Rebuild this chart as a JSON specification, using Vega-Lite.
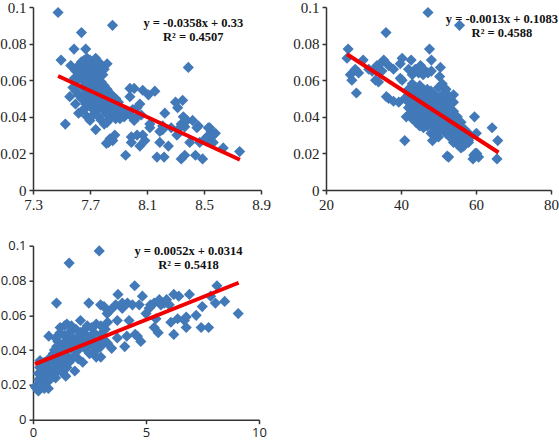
{"$schema":"https://vega.github.io/schema/vega-lite/v6.json","background":"white","padding":{"left":-1,"top":0,"right":0,"bottom":0},
"config":{"view":{"stroke":null},"axis":{"grid":false,"title":null,"labelFlush":false,"labelOverlap":false,"domainColor":"#333","domainWidth":1.5,"tickColor":"#333","tickWidth":1.5,"tickSize":4,"labelFont":"Liberation Serif","labelFontSize":15,"labelColor":"#222","labelPadding":3}},
"datasets":{
"p1":[{"x":7.476,"y":0.097},{"x":7.858,"y":0.09},{"x":7.64,"y":0.086},{"x":7.497,"y":0.071},{"x":7.588,"y":0.077},{"x":7.67,"y":0.077},{"x":8.39,"y":0.067},{"x":7.565,"y":0.068},{"x":7.527,"y":0.036},{"x":7.558,"y":0.051},{"x":7.598,"y":0.047},{"x":7.74,"y":0.033},
{"x":7.62,"y":0.068},{"x":7.64,"y":0.07},{"x":7.66,"y":0.071},{"x":7.68,"y":0.072},{"x":7.7,"y":0.071},{"x":7.72,"y":0.07},{"x":7.74,"y":0.072},{"x":7.76,"y":0.07},{"x":7.78,"y":0.068},{"x":7.64,"y":0.066},{"x":7.66,"y":0.067},{"x":7.68,"y":0.068},{"x":7.7,"y":0.068},{"x":7.72,"y":0.067},{"x":7.74,"y":0.066},{"x":7.76,"y":0.066},{"x":7.6,"y":0.065},{"x":7.62,"y":0.064},{"x":7.64,"y":0.063},{"x":7.66,"y":0.064},{"x":7.68,"y":0.065},{"x":7.7,"y":0.064},{"x":7.72,"y":0.063},{"x":7.74,"y":0.062},{"x":7.77,"y":0.062},{"x":7.59,"y":0.061},{"x":7.61,"y":0.06},{"x":7.63,"y":0.061},{"x":7.65,"y":0.06},{"x":7.67,"y":0.061},{"x":7.69,"y":0.06},{"x":7.71,"y":0.059},{"x":7.73,"y":0.058},
{"x":7.58,"y":0.056},{"x":7.6,"y":0.054},{"x":7.62,"y":0.052},{"x":7.64,"y":0.05},{"x":7.66,"y":0.052},{"x":7.68,"y":0.054},{"x":7.7,"y":0.055},{"x":7.72,"y":0.053},{"x":7.74,"y":0.054},{"x":7.76,"y":0.055},{"x":7.78,"y":0.056},{"x":7.8,"y":0.057},{"x":7.82,"y":0.055},{"x":7.84,"y":0.053},{"x":7.86,"y":0.051},{"x":7.88,"y":0.05},
{"x":7.62,"y":0.042},{"x":7.64,"y":0.043},{"x":7.66,"y":0.044},{"x":7.68,"y":0.04},{"x":7.7,"y":0.038},{"x":7.72,"y":0.041},{"x":7.74,"y":0.043},{"x":7.76,"y":0.045},{"x":7.78,"y":0.047},{"x":7.8,"y":0.049},{"x":7.82,"y":0.048},{"x":7.84,"y":0.046},{"x":7.86,"y":0.044},{"x":7.88,"y":0.046},{"x":7.9,"y":0.048},{"x":7.92,"y":0.044},{"x":7.94,"y":0.04},
{"x":7.72,"y":0.048},{"x":7.74,"y":0.05},{"x":7.76,"y":0.04},{"x":7.78,"y":0.038},{"x":7.8,"y":0.036},{"x":7.82,"y":0.037},{"x":7.84,"y":0.039},{"x":7.86,"y":0.041},{"x":7.88,"y":0.039},{"x":7.9,"y":0.042},
{"x":7.67,"y":0.047},{"x":7.69,"y":0.05},{"x":7.71,"y":0.045},{"x":7.73,"y":0.046},{"x":7.75,"y":0.048},{"x":7.77,"y":0.051},{"x":7.79,"y":0.044},{"x":7.81,"y":0.042},{"x":7.83,"y":0.051},{"x":7.75,"y":0.052},{"x":7.79,"y":0.053},{"x":7.81,"y":0.045},{"x":7.85,"y":0.048},{"x":7.83,"y":0.042},{"x":7.65,"y":0.056},{"x":7.68,"y":0.057},{"x":7.71,"y":0.05},{"x":7.75,"y":0.058},{"x":7.78,"y":0.059},{"x":7.8,"y":0.066},{"x":7.79,"y":0.063},{"x":7.82,"y":0.069},{"x":7.63,"y":0.067},{"x":7.91,"y":0.039},{"x":7.96,"y":0.043},{"x":7.98,"y":0.041},{"x":8.03,"y":0.04},{"x":8.0,"y":0.044},
{"x":7.815,"y":0.0255},{"x":7.84,"y":0.028},{"x":7.874,"y":0.03},{"x":7.86,"y":0.027},{"x":7.83,"y":0.026},{"x":7.95,"y":0.019},
{"x":7.98,"y":0.051},{"x":7.98,"y":0.0555},{"x":8.01,"y":0.0555},{"x":8.05,"y":0.047},{"x":8.03,"y":0.045},{"x":8.07,"y":0.0545},{"x":8.11,"y":0.052},{"x":8.155,"y":0.054},{"x":8.01,"y":0.038},{"x":8.06,"y":0.041},{"x":7.99,"y":0.029},{"x":8.03,"y":0.03},{"x":7.99,"y":0.026},{"x":8.05,"y":0.024},{"x":8.085,"y":0.027},{"x":8.07,"y":0.03},{"x":8.12,"y":0.034},{"x":8.12,"y":0.036},{"x":8.17,"y":0.018},{"x":8.22,"y":0.018},{"x":8.225,"y":0.042},{"x":8.19,"y":0.032},{"x":8.21,"y":0.033},{"x":8.19,"y":0.026},{"x":8.25,"y":0.024},{"x":8.27,"y":0.034},{"x":8.21,"y":0.035},{"x":8.31,"y":0.03},{"x":8.3,"y":0.048},{"x":8.315,"y":0.045},{"x":8.35,"y":0.049},{"x":8.34,"y":0.036},{"x":8.355,"y":0.04},{"x":8.38,"y":0.038},{"x":8.33,"y":0.034},{"x":8.365,"y":0.0345},{"x":8.34,"y":0.017},{"x":8.365,"y":0.019},{"x":8.4,"y":0.026},{"x":8.42,"y":0.038},{"x":8.46,"y":0.035},{"x":8.45,"y":0.034},{"x":8.44,"y":0.019},{"x":8.49,"y":0.017},{"x":8.47,"y":0.026},{"x":8.53,"y":0.034},{"x":8.55,"y":0.032},{"x":8.52,"y":0.029},{"x":8.54,"y":0.027},{"x":8.58,"y":0.031},{"x":8.565,"y":0.026},{"x":8.635,"y":0.023},{"x":8.75,"y":0.021},{"x":8.51,"y":0.028},{"x":8.54,"y":0.034},{"x":8.565,"y":0.03}],
"p2":[{"x":47.2,"y":0.097},{"x":55.6,"y":0.09},{"x":36,"y":0.086},{"x":25.9,"y":0.077},{"x":47.6,"y":0.077},{"x":25.6,"y":0.072},{"x":29.9,"y":0.071},{"x":35.4,"y":0.071},{"x":48.1,"y":0.071},{"x":40.3,"y":0.072},{"x":42.7,"y":0.071},{"x":39.8,"y":0.069},{"x":34.5,"y":0.069},{"x":36.7,"y":0.068},{"x":38,"y":0.066},{"x":31.4,"y":0.066},{"x":26.5,"y":0.063},{"x":27.8,"y":0.066},{"x":28.7,"y":0.064},{"x":26.9,"y":0.06},{"x":28.1,"y":0.053},{"x":33.2,"y":0.06},{"x":34,"y":0.059},{"x":32.3,"y":0.065},{"x":34.9,"y":0.065},{"x":33.6,"y":0.068},{"x":36.1,"y":0.051},{"x":36.7,"y":0.05},{"x":38,"y":0.0485},{"x":39.8,"y":0.061},{"x":40.3,"y":0.06},{"x":39.4,"y":0.048},{"x":41,"y":0.027},{"x":41.4,"y":0.04},{"x":50.5,"y":0.067},{"x":50.3,"y":0.062},{"x":48.1,"y":0.065},{"x":46.5,"y":0.065},{"x":45.2,"y":0.068},{"x":43.8,"y":0.066},{"x":42,"y":0.066},{"x":43,"y":0.063},{"x":45.9,"y":0.063},{"x":44.7,"y":0.064},{"x":47.2,"y":0.064},
{"x":42,"y":0.055},{"x":42,"y":0.052},{"x":42,"y":0.048},{"x":42,"y":0.045},{"x":42,"y":0.041},{"x":44,"y":0.056},{"x":44,"y":0.053},{"x":44,"y":0.05},{"x":44,"y":0.047},{"x":44,"y":0.044},{"x":44,"y":0.04},{"x":44,"y":0.037},{"x":46,"y":0.055},{"x":46,"y":0.052},{"x":46,"y":0.049},{"x":46,"y":0.046},{"x":46,"y":0.043},{"x":46,"y":0.04},{"x":46,"y":0.036},{"x":46,"y":0.034},{"x":48,"y":0.054},{"x":48,"y":0.051},{"x":48,"y":0.048},{"x":48,"y":0.045},{"x":48,"y":0.042},{"x":48,"y":0.039},{"x":48,"y":0.036},{"x":48,"y":0.031},{"x":50,"y":0.056},{"x":50,"y":0.05},{"x":50,"y":0.047},{"x":50,"y":0.044},{"x":50,"y":0.041},{"x":50,"y":0.038},{"x":50,"y":0.035},{"x":50,"y":0.032},{"x":50,"y":0.029},{"x":52,"y":0.055},{"x":52,"y":0.053},{"x":52,"y":0.049},{"x":52,"y":0.046},{"x":52,"y":0.043},{"x":52,"y":0.04},{"x":52,"y":0.037},{"x":52,"y":0.034},{"x":52,"y":0.031},{"x":54,"y":0.052},{"x":54,"y":0.048},{"x":54,"y":0.043},{"x":54,"y":0.04},{"x":54,"y":0.037},{"x":54,"y":0.034},{"x":54,"y":0.031},{"x":54,"y":0.028},{"x":54,"y":0.026},{"x":56,"y":0.037},{"x":56,"y":0.034},{"x":56,"y":0.031},{"x":56,"y":0.028},{"x":56,"y":0.025},{"x":56,"y":0.023},{"x":58,"y":0.031},{"x":58,"y":0.028},{"x":58,"y":0.026},
{"x":41,"y":0.05},{"x":43,"y":0.058},{"x":43,"y":0.054},{"x":43,"y":0.05},{"x":43,"y":0.046},{"x":43,"y":0.042},{"x":43,"y":0.039},{"x":45,"y":0.057},{"x":45,"y":0.054},{"x":45,"y":0.051},{"x":45,"y":0.047},{"x":45,"y":0.044},{"x":45,"y":0.041},{"x":45,"y":0.038},{"x":45,"y":0.035},{"x":47,"y":0.055},{"x":47,"y":0.05},{"x":47,"y":0.047},{"x":47,"y":0.044},{"x":47,"y":0.041},{"x":47,"y":0.038},{"x":47,"y":0.035},{"x":49,"y":0.052},{"x":49,"y":0.049},{"x":49,"y":0.046},{"x":49,"y":0.043},{"x":49,"y":0.04},{"x":49,"y":0.037},{"x":49,"y":0.034},{"x":49,"y":0.03},{"x":51,"y":0.058},{"x":51,"y":0.052},{"x":51,"y":0.048},{"x":51,"y":0.045},{"x":51,"y":0.042},{"x":51,"y":0.039},{"x":51,"y":0.036},{"x":51,"y":0.033},{"x":53,"y":0.05},{"x":53,"y":0.047},{"x":53,"y":0.044},{"x":53,"y":0.041},{"x":53,"y":0.038},{"x":53,"y":0.035},{"x":53,"y":0.032},{"x":53,"y":0.029},{"x":55,"y":0.04},{"x":55,"y":0.036},{"x":55,"y":0.033},{"x":55,"y":0.03},{"x":55,"y":0.027},{"x":55,"y":0.025},{"x":57,"y":0.033},{"x":57,"y":0.03},{"x":57,"y":0.027},{"x":57,"y":0.025},
{"x":48.4,"y":0.027},{"x":52.3,"y":0.0185},{"x":52.7,"y":0.018},{"x":59.6,"y":0.04},{"x":60.1,"y":0.031},{"x":64.3,"y":0.034},{"x":65.8,"y":0.027},{"x":65.6,"y":0.017},{"x":59.2,"y":0.017},{"x":59.8,"y":0.02},{"x":60.7,"y":0.018},{"x":59.4,"y":0.019},{"x":60.2,"y":0.02},{"x":58,"y":0.027},{"x":56.7,"y":0.024}],
"p3":[{"x":2.93,"y":0.097},{"x":1.6,"y":0.09},{"x":1.04,"y":0.067},{"x":2.47,"y":0.067},{"x":2.99,"y":0.066},{"x":3.76,"y":0.072},{"x":4.5,"y":0.077},{"x":4.84,"y":0.071},{"x":9.08,"y":0.061},{"x":8.48,"y":0.068},{"x":8.14,"y":0.077},{"x":8.07,"y":0.067},{"x":7.86,"y":0.071},{"x":7.49,"y":0.065},{"x":7.22,"y":0.06},{"x":7.44,"y":0.053},{"x":7.77,"y":0.053},{"x":6.92,"y":0.072},{"x":6.23,"y":0.072},{"x":6.45,"y":0.071},{"x":6.23,"y":0.049},{"x":6.1,"y":0.056},{"x":6.4,"y":0.058},{"x":6.78,"y":0.059},{"x":6.78,"y":0.053},{"x":6.7,"y":0.057},{"x":5.54,"y":0.05},{"x":5.36,"y":0.053},{"x":5.44,"y":0.058},{"x":5,"y":0.061},{"x":5.2,"y":0.066},{"x":5.36,"y":0.067},{"x":5.59,"y":0.069},{"x":5.81,"y":0.067},{"x":5.91,"y":0.069},{"x":6.03,"y":0.066},{"x":5.66,"y":0.066},{"x":5.14,"y":0.064},
{"x":3.66,"y":0.066},{"x":3.95,"y":0.064},{"x":4.18,"y":0.067},{"x":4.4,"y":0.066},{"x":4.7,"y":0.066},{"x":3.95,"y":0.067},{"x":4.25,"y":0.057},{"x":3.73,"y":0.057},{"x":4.06,"y":0.042},{"x":4.15,"y":0.048},{"x":4.52,"y":0.049},{"x":4.77,"y":0.045},{"x":4.62,"y":0.048},{"x":3.73,"y":0.047},{"x":3.48,"y":0.041},{"x":3.43,"y":0.063},{"x":3.28,"y":0.061},{"x":3.14,"y":0.065},
{"x":0.31,"y":0.034},{"x":0.24,"y":0.0265},{"x":0.16,"y":0.018},{"x":0.24,"y":0.0165},{"x":0.68,"y":0.018},{"x":0.46,"y":0.021},{"x":0.1,"y":0.019},{"x":0.35,"y":0.022},{"x":0.55,"y":0.024},{"x":0.4,"y":0.028},{"x":0.6,"y":0.031},{"x":0.8,"y":0.028},{"x":0.7,"y":0.035},{"x":0.9,"y":0.026},{"x":1.0,"y":0.031},{"x":1.1,"y":0.028},{"x":1.3,"y":0.027},{"x":1.45,"y":0.025},{"x":1.2,"y":0.034},{"x":0.9,"y":0.038},{"x":0.7,"y":0.048},{"x":1.0,"y":0.047},{"x":1.1,"y":0.045},{"x":1.2,"y":0.05},{"x":1.2,"y":0.053},{"x":1.4,"y":0.054},{"x":1.5,"y":0.055},{"x":1.7,"y":0.054},{"x":1.4,"y":0.048},{"x":1.6,"y":0.05},{"x":1.9,"y":0.052},{"x":1.3,"y":0.043},{"x":1.5,"y":0.045},{"x":1.7,"y":0.041},{"x":1.5,"y":0.037},{"x":1.8,"y":0.036},{"x":1.85,"y":0.028},{"x":2.0,"y":0.035},{"x":2.2,"y":0.033},{"x":2.1,"y":0.057},{"x":2.4,"y":0.054},{"x":2.0,"y":0.047},{"x":2.2,"y":0.045},{"x":2.4,"y":0.048},{"x":2.3,"y":0.041},{"x":2.6,"y":0.043},{"x":2.8,"y":0.055},{"x":2.7,"y":0.05},{"x":2.9,"y":0.046},{"x":2.8,"y":0.04},{"x":2.8,"y":0.036},{"x":3.0,"y":0.036},{"x":3.0,"y":0.054},{"x":3.2,"y":0.052},{"x":3.3,"y":0.056},{"x":3.1,"y":0.048},{"x":3.3,"y":0.044},{"x":3.0,"y":0.042},{"x":1.1,"y":0.038},{"x":0.8,"y":0.033},{"x":1.4,"y":0.031},{"x":1.6,"y":0.033},{"x":1.9,"y":0.04},{"x":2.5,"y":0.038},
{"x":0.3,"y":0.03},{"x":0.5,"y":0.033},{"x":0.45,"y":0.026},{"x":0.65,"y":0.027},{"x":0.75,"y":0.023},{"x":0.9,"y":0.031},{"x":1.0,"y":0.035},{"x":1.2,"y":0.03},{"x":1.15,"y":0.04},{"x":1.3,"y":0.037},{"x":1.4,"y":0.04},{"x":1.6,"y":0.043},{"x":1.8,"y":0.045},{"x":1.7,"y":0.048},{"x":1.9,"y":0.046},{"x":2.1,"y":0.043},{"x":2.1,"y":0.05},{"x":2.3,"y":0.052},{"x":2.5,"y":0.045},{"x":2.6,"y":0.047},{"x":2.6,"y":0.053},{"x":2.8,"y":0.044},{"x":3.0,"y":0.049},{"x":3.2,"y":0.045},{"x":2.4,"y":0.043},{"x":2.0,"y":0.04},{"x":0.25,"y":0.023},{"x":0.5,"y":0.018},{"x":0.85,"y":0.036},{"x":1.0,"y":0.024},{"x":1.5,"y":0.03},{"x":1.3,"y":0.035},{"x":1.05,"y":0.042},{"x":0.95,"y":0.04}]},
"columns":2,"bounds":"flush","align":"none","spacing":{"column":65,"row":55.7},
"concat":[
{"width":228,"height":183,"encoding":{"x":{"field":"x","type":"quantitative","scale":{"domain":[7.3,8.9],"nice":false,"zero":false},"axis":{"values":[7.3,7.7,8.1,8.5,8.9],"format":".1f"}},"y":{"field":"y","type":"quantitative","scale":{"domain":[0,0.1],"nice":false},"axis":{"values":[0,0.02,0.04,0.06,0.08,0.1],"format":"~g"}}},
"layer":[
{"data":{"name":"p1"},"mark":{"type":"point","shape":"diamond","filled":true,"size":125,"opacity":1,"color":"#4279b8"}},
{"data":{"values":[{"x":7.476,"y":0.0623},{"x":8.752,"y":0.0165}]},"mark":{"type":"line","color":"#f00000","strokeWidth":4}},
{"data":{"values":[{"x":8.425,"y":0.0913,"t":"y = -0.0358x + 0.33"},{"x":8.425,"y":0.0836,"t":"R² = 0.4507"}]},"mark":{"type":"text","font":"Liberation Serif","fontWeight":"bold","fontSize":12.5,"color":"#111"},"encoding":{"text":{"field":"t"}}}]},
{"width":225,"height":183,"encoding":{"x":{"field":"x","type":"quantitative","scale":{"domain":[20,80],"nice":false,"zero":false},"axis":{"values":[20,40,60,80]}},"y":{"field":"y","type":"quantitative","scale":{"domain":[0,0.1],"nice":false},"axis":{"values":[0,0.02,0.04,0.06,0.08,0.1],"format":"~g"}}},
"layer":[
{"data":{"name":"p2"},"mark":{"type":"point","shape":"diamond","filled":true,"size":125,"opacity":1,"color":"#4279b8"}},
{"data":{"values":[{"x":25.6,"y":0.0742},{"x":66,"y":0.0205}]},"mark":{"type":"line","color":"#f00000","strokeWidth":4}},
{"data":{"values":[{"x":66.9,"y":0.0936,"t":"y = -0.0013x + 0.1083"},{"x":66.9,"y":0.086,"t":"R² = 0.4588"}]},"mark":{"type":"text","font":"Liberation Serif","fontWeight":"bold","fontSize":12.5,"color":"#111"},"encoding":{"text":{"field":"t"}}}]},
{"width":226,"height":174,"encoding":{"x":{"field":"x","type":"quantitative","scale":{"domain":[0,10],"nice":false},"axis":{"values":[0,5,10],"labelFont":"Open Sans","labelFontSize":13}},"y":{"field":"y","type":"quantitative","scale":{"domain":[0,0.1],"nice":false},"axis":{"values":[0,0.02,0.04,0.06,0.08,0.1],"format":"~g","labelFont":"Open Sans","labelFontSize":13}}},
"layer":[
{"data":{"name":"p3"},"mark":{"type":"point","shape":"diamond","filled":true,"size":125,"opacity":1,"color":"#4279b8"}},
{"data":{"values":[{"x":0.09,"y":0.0319},{"x":9.1,"y":0.0787}]},"mark":{"type":"line","color":"#f00000","strokeWidth":4}},
{"data":{"values":[{"x":6.88,"y":0.0969,"t":"y = 0.0052x + 0.0314"},{"x":6.88,"y":0.0891,"t":"R² = 0.5418"}]},"mark":{"type":"text","font":"Liberation Serif","fontWeight":"bold","fontSize":12.5,"color":"#111"},"encoding":{"text":{"field":"t"}}}]}
]}
